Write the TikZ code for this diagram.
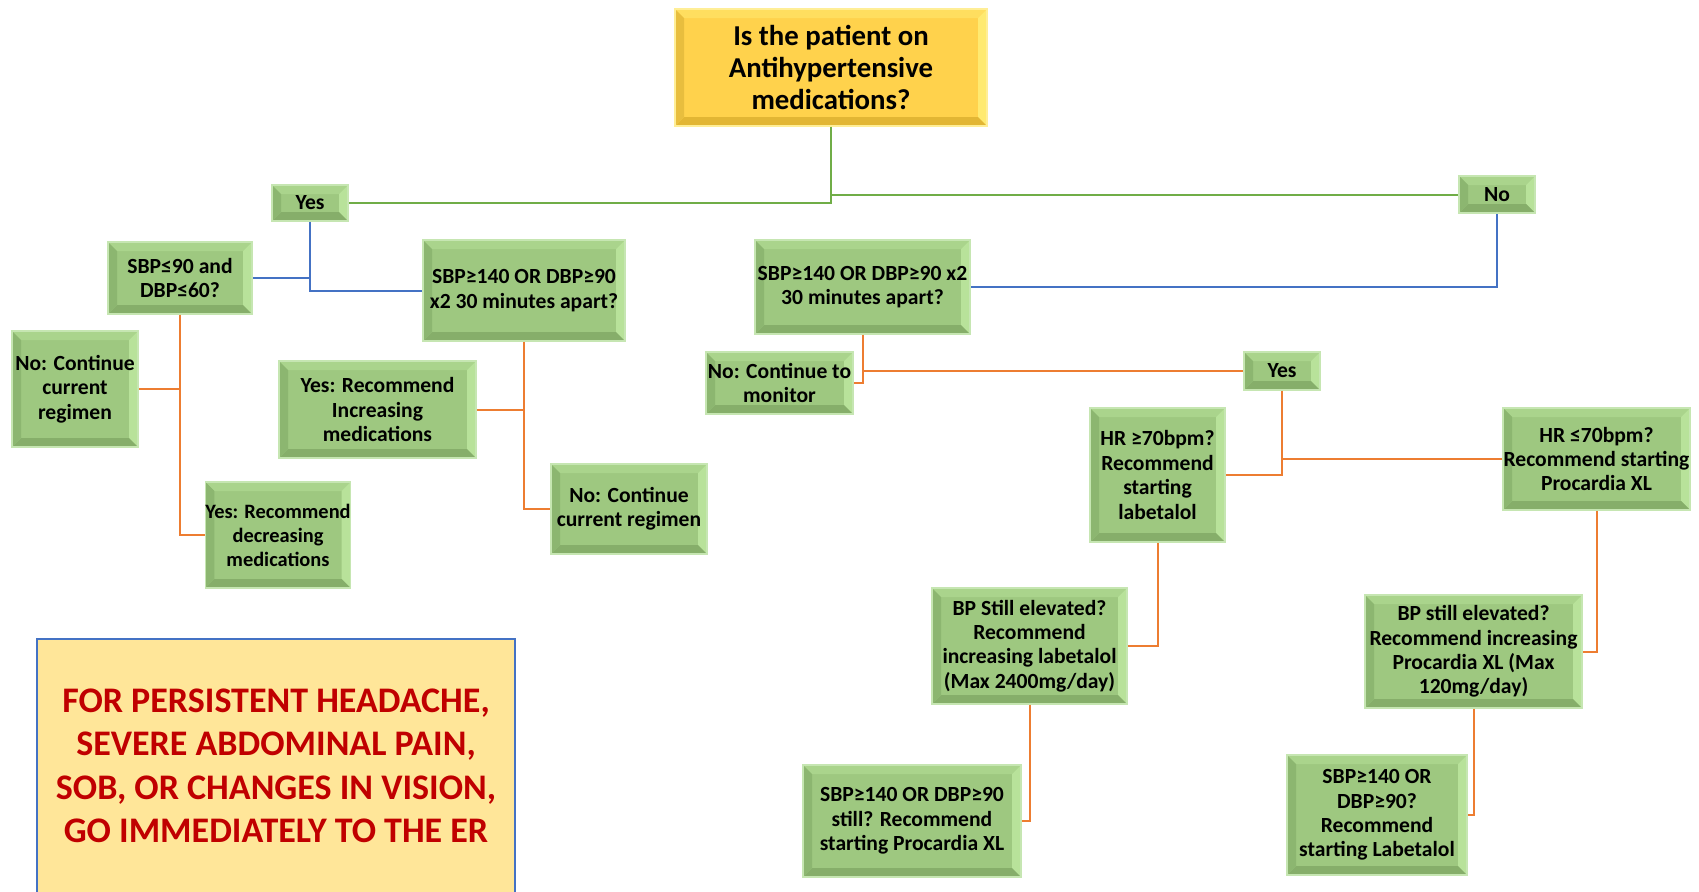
\documentclass[tikz,border=0pt]{standalone}
\usepackage{fontspec}
\setmainfont{Carlito}
\definecolor{gface}{RGB}{158,200,128}
\definecolor{gtop}{RGB}{170,212,140}
\definecolor{gleft}{RGB}{140,182,112}
\definecolor{gright}{RGB}{184,226,154}
\definecolor{gbot}{RGB}{134,174,106}
\definecolor{gline}{RGB}{198,230,178}
\definecolor{yface}{RGB}{255,210,76}
\definecolor{ytop}{RGB}{255,222,95}
\definecolor{yleft}{RGB}{232,190,62}
\definecolor{yright}{RGB}{255,234,112}
\definecolor{ybot}{RGB}{226,182,52}
\definecolor{yline}{RGB}{255,238,150}
\definecolor{cgreen}{RGB}{112,173,71}
\definecolor{cblue}{RGB}{68,114,196}
\definecolor{corange}{RGB}{237,125,49}
\definecolor{wfill}{RGB}{255,230,153}
\definecolor{wred}{RGB}{192,0,0}
\def\bvw{4.5pt}
\tikzset{
  bevelpic/.style n args={4}{path picture={
    \path (path picture bounding box.north west) coordinate (pnw)
          (path picture bounding box.north east) coordinate (pne)
          (path picture bounding box.south east) coordinate (pse)
          (path picture bounding box.south west) coordinate (psw);
    \fill[#1] (pnw) -- (pne) -- ([shift={(-\bvw,-\bvw)}]pne) -- ([shift={(\bvw,-\bvw)}]pnw) -- cycle;
    \fill[#2] (pne) -- (pse) -- ([shift={(-\bvw,\bvw)}]pse) -- ([shift={(-\bvw,-\bvw)}]pne) -- cycle;
    \fill[#3] (pse) -- (psw) -- ([shift={(\bvw,\bvw)}]psw) -- ([shift={(-\bvw,\bvw)}]pse) -- cycle;
    \fill[#4] (psw) -- (pnw) -- ([shift={(\bvw,-\bvw)}]pnw) -- ([shift={(\bvw,\bvw)}]psw) -- cycle;
  }},
  wh/.style 2 args={minimum width=#1*0.5pt, minimum height=#2*0.5pt},
  gbox/.style={rectangle, draw=gline, line width=0.8pt, fill=gface,
    bevelpic={gtop}{gright}{gbot}{gleft}, align=center, inner sep=0pt,
    font=\bfseries\fontsize{10.8}{12.2}\selectfont, text=black},
  ybox/.style={rectangle, draw=yline, line width=0.9pt, fill=yface,
    bevelpic={ytop}{yright}{ybot}{yleft}, align=center, inner sep=1pt,
    font=\bfseries\fontsize{14.4}{16}\selectfont, text=black},
  cg/.style={draw=cgreen, line width=1pt},
  cb/.style={draw=cblue, line width=1pt},
  co/.style={draw=corange, line width=1pt},
}
\begin{document}
\begin{tikzpicture}[x=0.5pt,y=-0.5pt]
\clip (0,0) rectangle (1699,891);
\fill[white] (0,0) rectangle (1699,891);

% warning box
\draw[fill=wfill, draw=cblue, line width=0.8pt] (37,639) rectangle (515,905);
\node[align=center, text=wred, font=\bfseries\fontsize{18}{21.7}\selectfont] (warn) at (276,766)
  {FOR PERSISTENT HEADACHE,\\SEVERE ABDOMINAL PAIN,\\SOB, OR CHANGES IN VISION,\\GO IMMEDIATELY TO THE ER};

% nodes
\node[ybox, wh={312}{117}] (top) at (831,67.5) {\raisebox{2pt}{\parbox{150pt}{\centering Is the patient on\\Antihypertensive\\medications?}}};
\node[gbox, wh={76}{36}] (yesL) at (310,203) {Yes};
\node[gbox, wh={76}{37}] (no) at (1497,194.5) {No};
\node[gbox, wh={144}{72}] (sbp90) at (180,278) {SBP≤90 and\\DBP≤60?};
\node[gbox, wh={202}{101}] (sbpL) at (524,290.5) {SBP≥140 OR DBP≥90\\x2 30 minutes apart?};
\node[gbox, wh={126}{116}] (noL) at (75,389) {No: Continue\\current\\regimen};
\node[gbox, wh={144}{106}, font=\bfseries\fontsize{10.2}{12}\selectfont] (decr) at (278,535) {Yes: Recommend\\decreasing\\medications};
\node[gbox, wh={197}{97}] (incr) at (377.5,409.5) {Yes: Recommend\\Increasing\\medications};
\node[gbox, wh={156}{90}] (noCR) at (629,509) {No: Continue\\current regimen};
\node[gbox, wh={215}{94}] (sbpR) at (862.5,287) {SBP≥140 OR DBP≥90 x2\\30 minutes apart?};
\node[gbox, wh={147}{62}] (noMon) at (779.5,383) {No: Continue to\\monitor};
\node[gbox, wh={76}{38}] (yesR) at (1282,371) {Yes};
\node[gbox, wh={135}{134}] (hr70) at (1157.5,475) {HR ≥70bpm?\\Recommend\\starting\\labetalol};
\node[gbox, wh={187}{102}] (hrle70) at (1596.5,459) {HR ≤70bpm?\\Recommend starting\\Procardia XL};
\node[gbox, wh={195}{116}] (bpL) at (1029.5,646) {BP Still elevated?\\Recommend\\increasing labetalol\\(Max 2400mg/day)};
\node[gbox, wh={218}{112}] (sbpStill) at (912,821) {SBP≥140 OR DBP≥90\\still? Recommend\\starting Procardia XL};
\node[gbox, wh={217}{113}] (bpR) at (1473.5,651.5) {BP still elevated?\\Recommend increasing\\Procardia XL (Max\\120mg/day)};
\node[gbox, wh={180}{120}] (last) at (1377,815) {SBP≥140 OR\\DBP≥90?\\Recommend\\starting Labetalol};

% connectors
\draw[cg] (top.south) |- (yesL.east);
\draw[cg] (top.south) |- (no.west);
\draw[cb] (yesL.south) |- (sbp90.east);
\draw[cb] (yesL.south) |- (sbpL.west);
\draw[cb] (no.south) |- (sbpR.east);
\draw[co] (sbp90.south) |- (noL.east);
\draw[co] (sbp90.south) |- (decr.west);
\draw[co] (sbpL.south) |- (incr.east);
\draw[co] (sbpL.south) |- (noCR.west);
\draw[co] (sbpR.south) |- (yesR.west);
\draw[co] (sbpR.south) |- (noMon.east);
\draw[co] (yesR.south) |- (hrle70.west);
\draw[co] (yesR.south) |- (hr70.east);
\draw[co] (hr70.south) |- (bpL.east);
\draw[co] (bpL.south) |- (sbpStill.east);
\draw[co] (hrle70.south) |- (bpR.east);
\draw[co] (bpR.south) |- (last.east);
\end{tikzpicture}
\end{document}
